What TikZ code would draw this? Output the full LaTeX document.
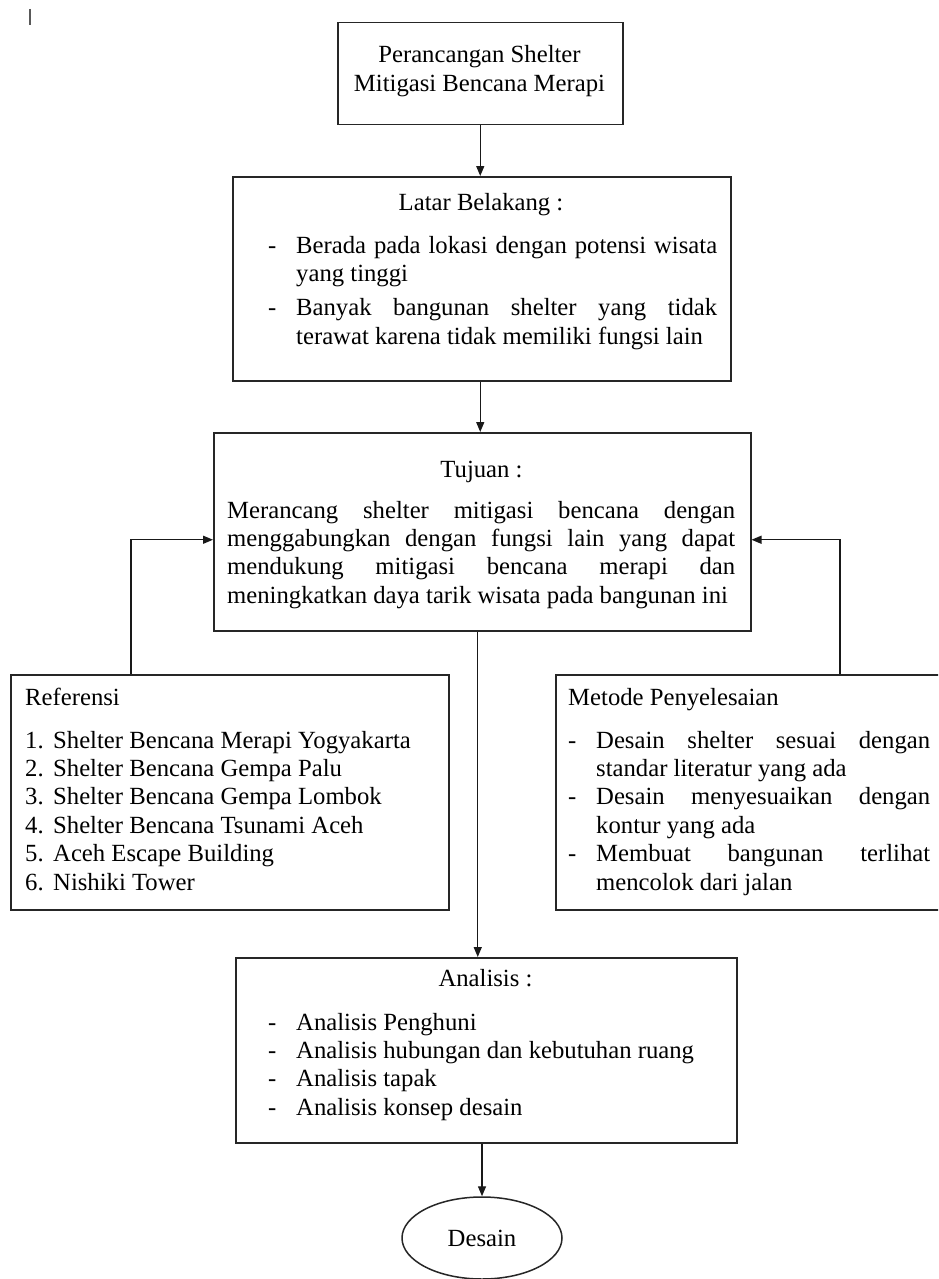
\documentclass[tikz,border=0pt]{standalone}
\usepackage{fontspec}
\setmainfont{Liberation Serif}
\usetikzlibrary{arrows.meta,shapes.geometric}
\newcommand\JL[1]{\hbox to\linewidth{#1}}
\newcommand\NL[1]{\hbox{#1}}
\newcommand\DL[1]{\hbox to\linewidth{\makebox[28pt][l]{-}#1}}
\newcommand\DN[1]{\hbox{\makebox[28pt][l]{-}#1}}
\newcommand\IN[1]{\hbox{\kern28pt #1}}
\newcommand\NUM[2]{\hbox{\makebox[28pt][l]{#1}#2}}
\begin{document}
\begin{tikzpicture}[x=1pt,y=-1pt,
  box/.style={draw=black!85,line width=1.5pt,rectangle,inner sep=0pt,anchor=north west},
  txt/.style={inner sep=0pt,font=\fontsize{24.7}{28.4}\selectfont},
  conn/.style={draw=black!90,line width=1.4pt},
  arr/.style={conn,-{Triangle[length=10pt,width=8pt]}}]
\useasboundingbox (0,0) rectangle (938,1279);
\clip (0,0) rectangle (938,1279);
\fill[white] (0,0) rectangle (938,1279);
\draw[line width=1.6pt,black!65] (30,9) -- (30,25);

% box 1
\node[box,minimum width=285pt,minimum height=102pt] (judul) at (337,22) {};
\node[txt,anchor=base] (judult) at (479.5,63)
  {\parbox[t]{280pt}{\centering Perancangan Shelter\\Mitigasi Bencana Merapi}};

% box 2
\node[box,minimum width=498pt,minimum height=204pt] (latar) at (232,176) {};
\node[txt,anchor=base] (latarh) at (481,210) {Latar Belakang :};
\node[txt,anchor=base west] (latart) at (268,253)
  {\parbox[t]{449pt}{\DL{Berada pada lokasi dengan potensi wisata}\IN{yang tinggi}\vskip 6pt
   \DL{Banyak bangunan shelter yang tidak}\IN{terawat karena tidak memiliki fungsi lain}}};

% box 3
\node[box,minimum width=537pt,minimum height=198pt] (tujuan) at (213,432) {};
\node[txt,anchor=base] (tujuanh) at (481.5,477) {Tujuan :};
\node[txt,anchor=base west] (tujuant) at (227,518)
  {\parbox[t]{508pt}{\JL{Merancang shelter mitigasi bencana dengan}\JL{menggabungkan dengan fungsi lain yang dapat}\JL{mendukung mitigasi bencana merapi dan}\NL{meningkatkan daya tarik wisata pada bangunan ini}}};

% referensi
\node[box,minimum width=438pt,minimum height=235pt] (refs) at (10,674) {};
\node[txt,anchor=base west] (refst) at (25,705)
  {\parbox[t]{410pt}{\NL{Referensi}\vskip 14.6pt
   \NUM{1.}{Shelter Bencana Merapi Yogyakarta}\NUM{2.}{Shelter Bencana Gempa Palu}\NUM{3.}{Shelter Bencana Gempa Lombok}\NUM{4.}{Shelter Bencana Tsunami Aceh}\NUM{5.}{Aceh Escape Building}\NUM{6.}{Nishiki Tower}}};

% metode
\node[box,minimum width=400pt,minimum height=235pt] (metode) at (555,674) {};
\node[txt,anchor=base west] (metodet) at (568,705)
  {\parbox[t]{362pt}{\NL{Metode Penyelesaian}\vskip 14.6pt
   \DL{Desain shelter sesuai dengan}\IN{standar literatur yang ada}\DL{Desain menyesuaikan dengan}\IN{kontur yang ada}\DL{Membuat bangunan terlihat}\IN{mencolok dari jalan}}};

% analisis
\node[box,minimum width=501pt,minimum height=185pt] (analisis) at (235,957) {};
\node[txt,anchor=base] (analisish) at (485.5,986) {Analisis :};
\node[txt,anchor=base west] (analisist) at (268,1030)
  {\parbox[t]{440pt}{\DN{Analisis Penghuni}\DN{Analisis hubungan dan kebutuhan ruang}\DN{Analisis tapak}\DN{Analisis konsep desain}}};

% desain
\node[draw=black!85,line width=1.5pt,ellipse,minimum width=160pt,minimum height=82pt,inner sep=0pt,
  font=\fontsize{24.7}{28.4}\selectfont] (desain) at (482,1238) {Desain};

% connectors
\draw[arr] (judul.south) -- (judul.south |- latar.north);
\draw[arr] (judul.south |- latar.south) -- (judul.south |- tujuan.north);
\draw[arr] ([xshift=121pt]refs.north west) |- ([yshift=-8pt]tujuan.west);
\draw[arr] ([xshift=285pt]metode.north west) |- ([yshift=-8pt]tujuan.east);
\draw[arr] ([xshift=-4.5pt]tujuan.south) -- ([xshift=-4.5pt]tujuan.south |- analisis.north);
\draw[arr] (desain.north |- analisis.south) -- (desain.north);
\end{tikzpicture}
\end{document}
